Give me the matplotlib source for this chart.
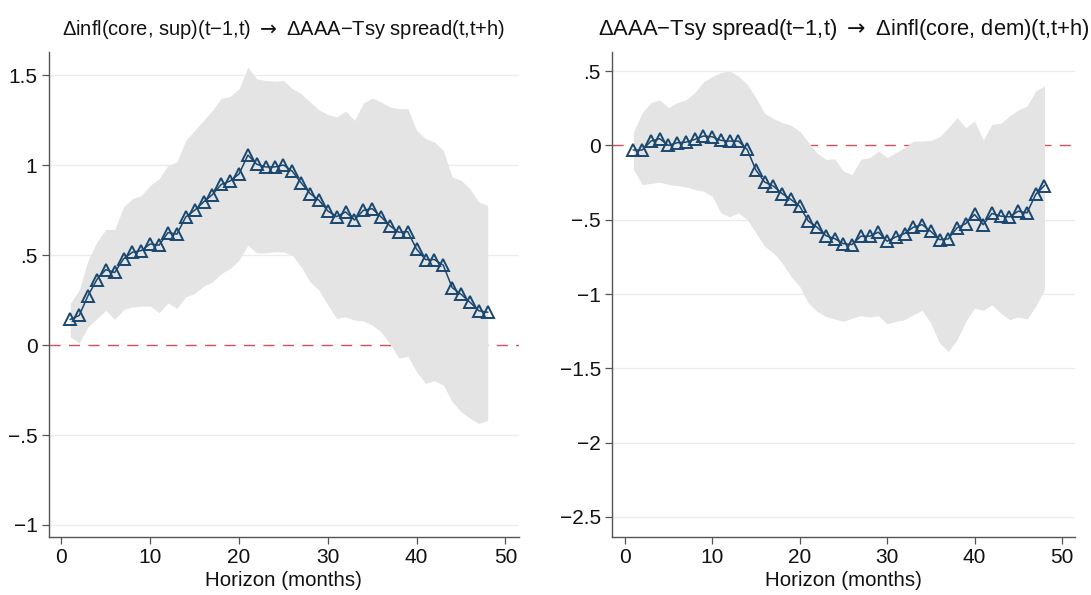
import matplotlib.pyplot as plt

plt.rcParams['font.family'] = ['Liberation Sans', 'DejaVu Sans']
plt.rcParams['mathtext.fontset'] = 'dejavusans'

# horizons 1..48
horizon = list(range(1, 49))

# left panel: dinfl(core, sup) -> dAAA-Tsy spread
left_irf = [0.143, 0.165, 0.276, 0.365, 0.42, 0.404, 0.48, 0.517, 0.526, 0.563,
            0.556, 0.626, 0.617, 0.713, 0.75, 0.796, 0.837, 0.894, 0.913, 0.952,
            1.057, 1.006, 0.991, 0.991, 1.002, 0.967, 0.902, 0.843, 0.806, 0.746,
            0.715, 0.741, 0.696, 0.75, 0.759, 0.713, 0.663, 0.628, 0.631, 0.533,
            0.476, 0.476, 0.444, 0.32, 0.283, 0.239, 0.191, 0.183]
left_hi = [0.232, 0.306, 0.472, 0.574, 0.643, 0.643, 0.769, 0.815, 0.833, 0.889,
           0.926, 1.0, 1.019, 1.139, 1.194, 1.25, 1.306, 1.374, 1.383, 1.426,
           1.546, 1.481, 1.472, 1.468, 1.472, 1.426, 1.398, 1.352, 1.309, 1.283,
           1.269, 1.302, 1.25, 1.346, 1.374, 1.352, 1.324, 1.315, 1.315, 1.194,
           1.148, 1.13, 1.083, 0.935, 0.917, 0.87, 0.796, 0.778]
left_lo = [0.046, 0.013, 0.102, 0.148, 0.194, 0.143, 0.198, 0.213, 0.217, 0.217,
           0.18, 0.235, 0.204, 0.269, 0.287, 0.328, 0.352, 0.398, 0.426, 0.472,
           0.556, 0.513, 0.513, 0.519, 0.519, 0.5, 0.435, 0.352, 0.306, 0.222,
           0.148, 0.157, 0.139, 0.135, 0.111, 0.074, 0.009, -0.074, -0.061, -0.148,
           -0.213, -0.198, -0.222, -0.315, -0.37, -0.407, -0.435, -0.42]

# right panel: dAAA-Tsy spread -> dinfl(core, dem)
right_irf = [-0.031, -0.031, 0.029, 0.045, 0.0, 0.018, 0.022, 0.04, 0.063, 0.058,
             0.034, 0.029, 0.029, -0.027, -0.166, -0.247, -0.274, -0.324, -0.364, -0.409,
             -0.51, -0.551, -0.607, -0.627, -0.661, -0.667, -0.611, -0.611, -0.584, -0.645,
             -0.616, -0.593, -0.551, -0.533, -0.578, -0.634, -0.629, -0.555, -0.526, -0.465,
             -0.533, -0.458, -0.476, -0.481, -0.443, -0.454, -0.33, -0.27]
right_hi = [0.09, 0.22, 0.288, 0.306, 0.254, 0.288, 0.306, 0.355, 0.427, 0.463,
            0.49, 0.501, 0.467, 0.411, 0.321, 0.216, 0.18, 0.153, 0.135, 0.097,
            0.022, -0.054, -0.094, -0.09, -0.173, -0.196, -0.094, -0.083, -0.038, -0.083,
            -0.049, -0.016, 0.029, 0.029, 0.034, 0.058, 0.119, 0.187, 0.119, 0.164,
            0.036, 0.142, 0.148, 0.198, 0.238, 0.265, 0.366, 0.4]
right_lo = [-0.162, -0.263, -0.256, -0.247, -0.263, -0.27, -0.279, -0.297, -0.308, -0.342,
            -0.454, -0.481, -0.454, -0.499, -0.589, -0.679, -0.724, -0.791, -0.881, -0.948,
            -1.061, -1.117, -1.151, -1.169, -1.184, -1.162, -1.146, -1.155, -1.146, -1.2,
            -1.184, -1.173, -1.139, -1.11, -1.196, -1.33, -1.387, -1.308, -1.184, -1.094,
            -1.11, -1.072, -1.128, -1.173, -1.155, -1.169, -1.083, -0.971]

left_title = '\u0394infl(core, sup)(t\u22121,t) $\\rightarrow$ \u0394AAA\u2212Tsy spread(t,t+h)'
right_title = '\u0394AAA\u2212Tsy spread(t\u22121,t) $\\rightarrow$ \u0394infl(core, dem)(t,t+h)'

left_yticks = [-1, -0.5, 0, 0.5, 1, 1.5]
left_ylabels = ['\u22121', '\u2212.5', '0', '.5', '1', '1.5']
right_yticks = [-2.5, -2, -1.5, -1, -0.5, 0, 0.5]
right_ylabels = ['\u22122.5', '\u22122', '\u22121.5', '\u22121', '\u2212.5', '0', '.5']
xticks = [0, 10, 20, 30, 40, 50]

NAVY = '#1a476f'
BAND = '#e4e4e4'
RED = '#d4505f'

fig = plt.figure(figsize=(10.91, 5.95), dpi=100)
ax1 = fig.add_axes([0.0445, 0.0975, 0.431, 0.815])
ax2 = fig.add_axes([0.561, 0.0975, 0.4244, 0.815])


def draw(ax, irf, lo, hi, title, yticks, ylabels, ylim, title_size):
    ax.fill_between(horizon, lo, hi, color=BAND, linewidth=0, zorder=2)
    ax.axhline(0, color=RED, linewidth=1.0, linestyle=(0, (8, 6)), zorder=1.5)
    ax.plot(horizon, irf, color=NAVY, linewidth=1.1, marker='^', markersize=8.5,
            markerfacecolor='none', markeredgecolor=NAVY, markeredgewidth=1.4, zorder=3)
    ax.set_xlim(-1.45, 51.5)
    ax.set_ylim(*ylim)
    ax.set_xticks(xticks)
    ax.set_yticks(yticks)
    ax.set_yticklabels(ylabels)
    for y in yticks:
        if y != 0:
            ax.axhline(y, color='#ececec', linewidth=1.0, zorder=0.5)
    for s in ['top', 'right']:
        ax.spines[s].set_visible(False)
    for s in ['left', 'bottom']:
        ax.spines[s].set_color('#555555')
        ax.spines[s].set_linewidth(1.0)
    ax.tick_params(axis='both', direction='out', length=5, width=0.9, color='#555555',
                   labelsize=15, labelcolor='#111111', pad=3)
    ax.set_xlabel('Horizon (months)', fontsize=14.8, color='#111111', labelpad=3)
    ax.set_title(title, fontsize=title_size, color='#111111', pad=12)


draw(ax1, left_irf, left_lo, left_hi, left_title, left_yticks, left_ylabels,
     (-1.067, 1.63), 14.5)
draw(ax2, right_irf, right_lo, right_hi, right_title, right_yticks, right_ylabels,
     (-2.635, 0.628), 15.8)

fig.savefig('out.png', dpi=100)
